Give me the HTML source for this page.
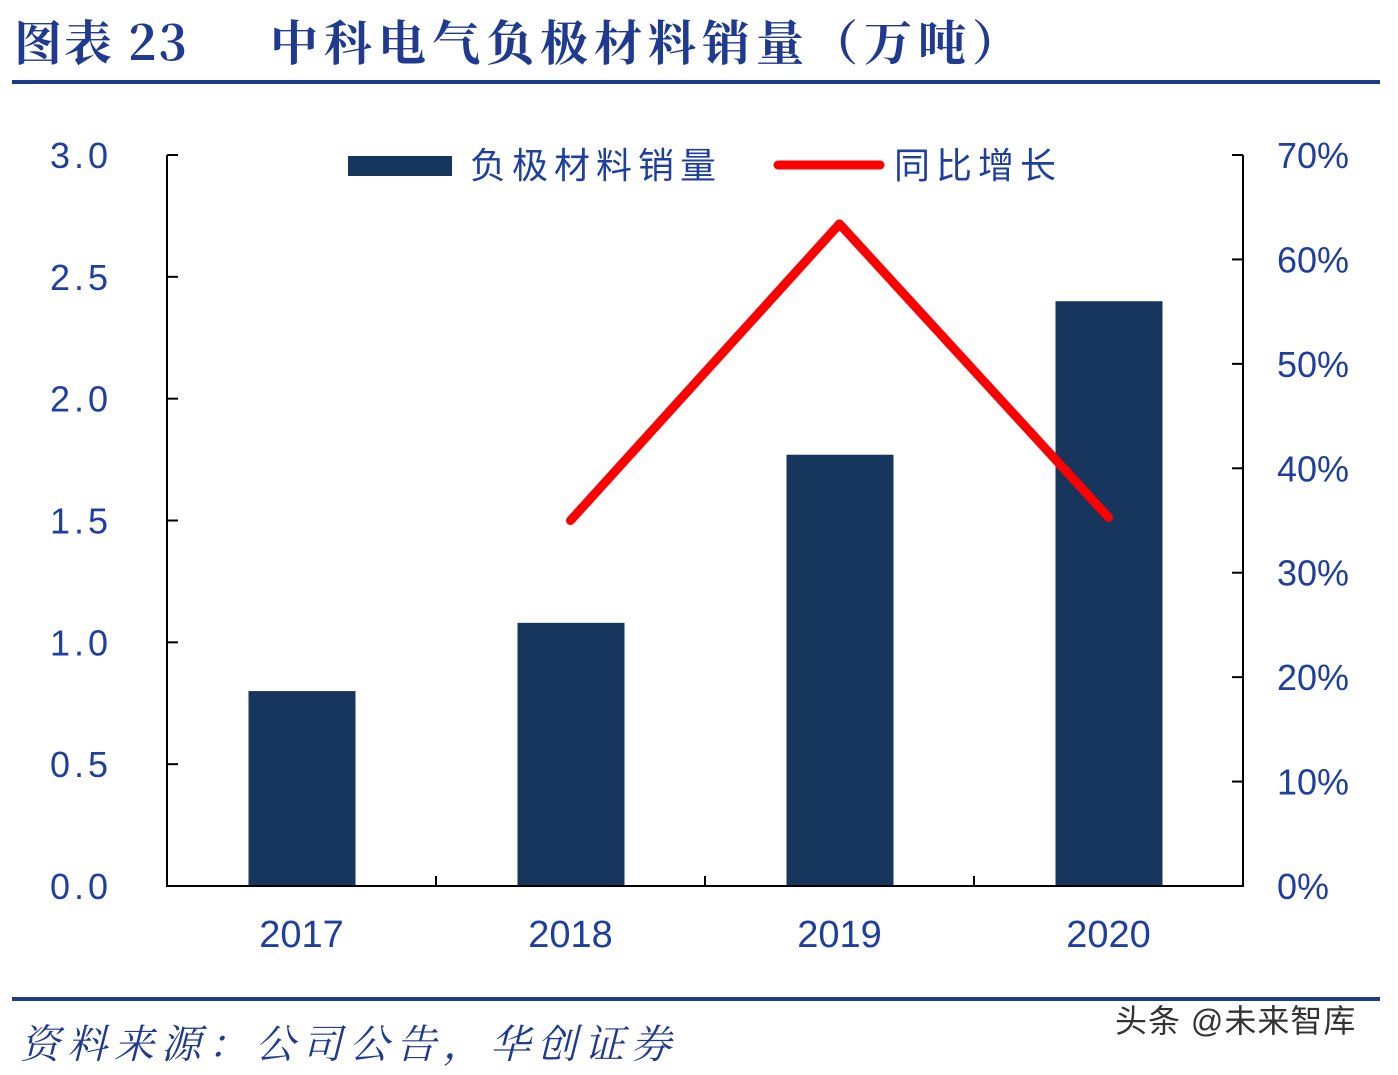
<!DOCTYPE html>
<html><head><meta charset="utf-8"><style>
body{margin:0;background:#fff;width:1398px;height:1070px;overflow:hidden;font-family:"Liberation Sans","Noto Sans CJK SC",sans-serif}
</style></head><body>
<svg width="1398" height="1070" xmlns="http://www.w3.org/2000/svg">
<text x="14" y="60" font-size="48" font-weight="bold" fill="#1f3a8f" font-family="'Noto Serif CJK SC','Liberation Serif',serif" letter-spacing="2">图表 23</text>
<text x="270" y="60" font-size="48" font-weight="bold" fill="#1f3a8f" font-family="'Noto Serif CJK SC','Liberation Serif',serif" letter-spacing="6">中科电气负极材料销量（万吨）</text>
<rect x="12" y="80" width="1368" height="4" fill="#1c3b8a"/>
<rect x="12" y="997" width="1368" height="4" fill="#1c3b8a"/>
<text x="20" y="1058" font-size="40" font-style="italic" fill="#1f3a8f" font-family="'Noto Serif CJK SC',serif" letter-spacing="7">资料来源：公司公告，华创证券</text>
<text x="1115" y="1032" font-size="32" fill="#333" letter-spacing="1">头条 @未来智库</text>
<g id="plot"></g>
</svg>
<script>
const categories=["2017","2018","2019","2020"];
const sales=[0.80,1.08,1.77,2.40];
const growth=[null,35.0,63.4,35.3];
const leftTicks=["0.0","0.5","1.0","1.5","2.0","2.5","3.0"];
const rightTicks=["0%","10%","20%","30%","40%","50%","60%","70%"];
const NS="http://www.w3.org/2000/svg";
const g=document.getElementById('plot');
const L=167,R=1243,B=886,T=155;
const band=(R-L)/categories.length;
const xC=i=>L+band*(i+0.5);
const yL=v=>B-(v/3)*(B-T);
const yR=v=>B-(v/70)*(B-T);
function mk(t,a,txt){const e=document.createElementNS(NS,t);for(const k in a)e.setAttribute(k,a[k]);if(txt!=null)e.textContent=txt;g.appendChild(e);return e;}
sales.forEach((v,i)=>{const e=mk('rect',{x:xC(i)-53,y:yL(v),width:107,height:B-yL(v),fill:'#17365d'});

});
let e=mk('path',{d:`M${L} ${T}V${B}H${R}V${T}`,fill:'none',stroke:'#000','stroke-width':2});


leftTicks.forEach((t,i)=>{const v=i*0.5;mk('line',{x1:L,x2:L+11,y1:yL(v),y2:yL(v),stroke:'#000','stroke-width':2});
const x=mk('text',{x:112,y:yL(v)+13,'font-size':36,fill:'#1f3fa0','text-anchor':'end','letter-spacing':'4'},t);

});
rightTicks.forEach((t,i)=>{const v=i*10;mk('line',{x1:R-11,x2:R,y1:yR(v),y2:yR(v),stroke:'#000','stroke-width':2});
const x=mk('text',{x:1277,y:yR(v)+13,'font-size':36,fill:'#1f3fa0'},t);

});
for(let i=1;i<categories.length;i++){mk('line',{x1:L+band*i,x2:L+band*i,y1:B-10,y2:B,stroke:'#000','stroke-width':2});}
categories.forEach((c,i)=>{const x=mk('text',{x:xC(i),y:947,'font-size':38,fill:'#1f3fa0','text-anchor':'middle'},c);

});
let d='';growth.forEach((v,i)=>{if(v==null)return;d+=(d?'L':'M')+xC(i)+' '+yR(v);});
e=mk('path',{d:d,fill:'none',stroke:'#ff0000','stroke-width':9,'stroke-linecap':'round','stroke-linejoin':'round'});


e=mk('rect',{x:348,y:156,width:104,height:20,fill:'#17365d'});


e=mk('text',{x:470,y:178,'font-size':36,fill:'#1f3fa0','letter-spacing':'6'},'负极材料销量');


e=mk('line',{x1:778,x2:880,y1:165,y2:165,stroke:'#ff0000','stroke-width':9,'stroke-linecap':'round'});


e=mk('text',{x:894,y:178,'font-size':36,fill:'#1f3fa0','letter-spacing':'6'},'同比增长');


</script>
</body></html>
